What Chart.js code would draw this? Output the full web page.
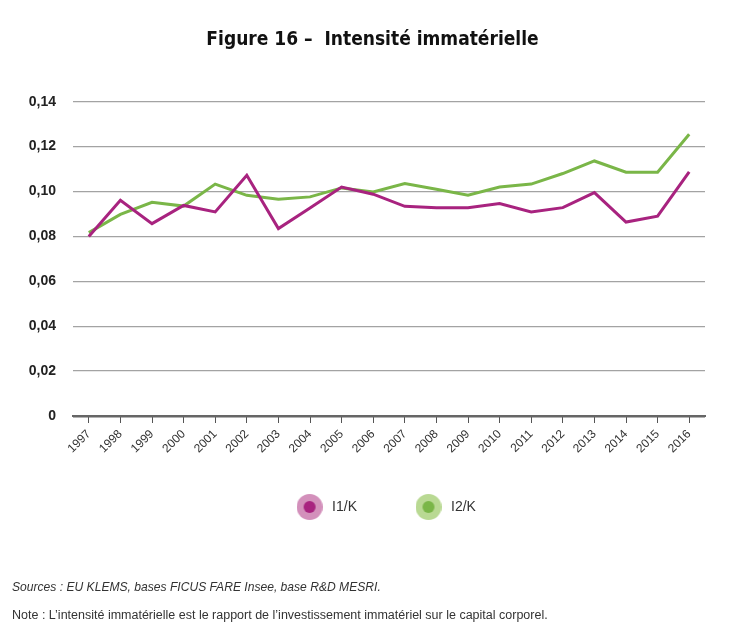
<!DOCTYPE html>
<html><head><meta charset="utf-8">
<script src="https://cdn.jsdelivr.net/npm/chart.js@4.4.1/dist/chart.umd.min.js"></script>
<style>
html,body{margin:0;padding:0;background:#fff;}
#wrap{position:relative;width:730px;height:643px;overflow:hidden;}
#c{position:absolute;left:0;top:0;}
.note{position:absolute;left:12px;font-family:"Liberation Sans",sans-serif;color:#333;white-space:nowrap;}
</style></head><body>
<div id="wrap"><canvas id="c" width="730" height="643"></canvas>
<div class="note" style="top:580px;font-style:italic;font-size:12.1px">Sources : EU KLEMS, bases FICUS FARE Insee, base R&amp;D MESRI.</div>
<div class="note" style="top:608px;font-size:12.5px">Note : L’intensité immatérielle est le rapport de l’investissement immatériel sur le capital corporel.</div>
</div>
<script>
const years = ['1997','1998','1999','2000','2001','2002','2003','2004','2005','2006','2007','2008','2009','2010','2011','2012','2013','2014','2015','2016'];
const i1k = [0.0800,0.0961,0.0857,0.0938,0.0909,0.1072,0.0835,0.0927,0.1020,0.0988,0.0934,0.0928,0.0928,0.0946,0.0909,0.0928,0.0995,0.0864,0.0890,0.1087];
const i2k = [0.0817,0.0898,0.0952,0.0935,0.1033,0.0983,0.0965,0.0976,0.1016,0.0998,0.1035,0.1010,0.0983,0.1020,0.1033,0.1080,0.1136,0.1086,0.1086,0.1255];
const yTicks = [0,0.02,0.04,0.06,0.08,0.10,0.12,0.14];
const seriesLabels = ['I1/K','I2/K'];
const chartTitle = 'Figure 16 –  Intensité immatérielle';

const PURPLE = '#a8237f', PURPLE_LIGHT = '#d390bb';
const GREEN = '#7ab648', GREEN_LIGHT = '#b9d993';

function legendDot(ring, core){
  const c = document.createElement('canvas');
  c.width = 26; c.height = 26;
  const g = c.getContext('2d');
  g.fillStyle = ring; g.beginPath(); g.arc(13,13,13,0,Math.PI*2); g.fill();
  g.fillStyle = core; g.beginPath(); g.arc(13,13,6,0,Math.PI*2); g.fill();
  return c;
}
const dots = [legendDot(PURPLE_LIGHT, PURPLE), legendDot(GREEN_LIGHT, GREEN)];

// nudge title and legend boxes after layout (horizontal centring / vertical place)
const nudge = {
  id: 'nudge',
  afterLayout(ch){
    const t = ch.titleBlock; if (t){ t.left += 12.5; t.right += 12.5; }
    const l = ch.legend; if (l){ l.top -= 28; l.bottom -= 28; l.left -= 4; l.right -= 4; }
  }
};

const chart = new Chart(document.getElementById('c'), {
  type: 'line',
  data: {
    labels: years,
    datasets: [
      {label: seriesLabels[0], data: i1k, borderColor: PURPLE, backgroundColor: PURPLE, borderWidth: 3, pointRadius: 0, tension: 0},
      {label: seriesLabels[1], data: i2k, borderColor: GREEN, backgroundColor: GREEN, borderWidth: 3, pointRadius: 0, tension: 0}
    ]
  },
  plugins: [nudge],
  options: {
    responsive: false,
    animation: false,
    layout: {padding: {left: 15, right: 25, top: 0, bottom: 91}},
    plugins: {
      title: {
        display: true, text: chartTitle, color: '#111',
        font: {family: '"DejaVu Sans Condensed",sans-serif', size: 19, weight: 'bold', lineHeight: 1.2},
        padding: {top: 28.6, bottom: 50.3}
      },
      legend: {
        position: 'bottom', fullSize: false,
        labels: {
          usePointStyle: true, pointStyleWidth: 31, padding: 56, color: '#333',
          font: {family: '"Liberation Sans",sans-serif', size: 14},
          generateLabels(ch){
            const items = Chart.defaults.plugins.legend.labels.generateLabels(ch);
            items.forEach((it,i)=>{ it.pointStyle = dots[i]; });
            return items;
          }
        }
      },
      tooltip: {enabled: false}
    },
    scales: {
      x: {
        offset: true,
        grid: {display: true, drawOnChartArea: false, offset: false, tickLength: 7, color: '#555', lineWidth: 1},
        border: {display: true, color: '#666', width: 2},
        ticks: {minRotation: 45, maxRotation: 45, padding: 4, color: '#333', autoSkip: false,
          font: {family: '"Liberation Sans",sans-serif', size: 12}},
        afterFit(s){ s.height = 56; }
      },
      y: {
        min: 0, max: 0.14,
        afterBuildTicks(s){ s.ticks = yTicks.map(v=>({value:v})); },
        grid: {drawTicks: false, color: c => c.tick && c.tick.value === 0 ? '#666' : '#a3a3a3', lineWidth: c => c.tick && c.tick.value === 0 ? 2.5 : 1.3},
        border: {display: false},
        ticks: {padding: 17, color: '#222', font: {family: '"Liberation Sans",sans-serif', size: 14, weight: 'bold'},
          callback: v => v === 0 ? '0' : v.toFixed(2).replace('.', ',')},
        afterFit(s){ s.width = 58; }
      }
    }
  }
});
</script>
</body></html>
